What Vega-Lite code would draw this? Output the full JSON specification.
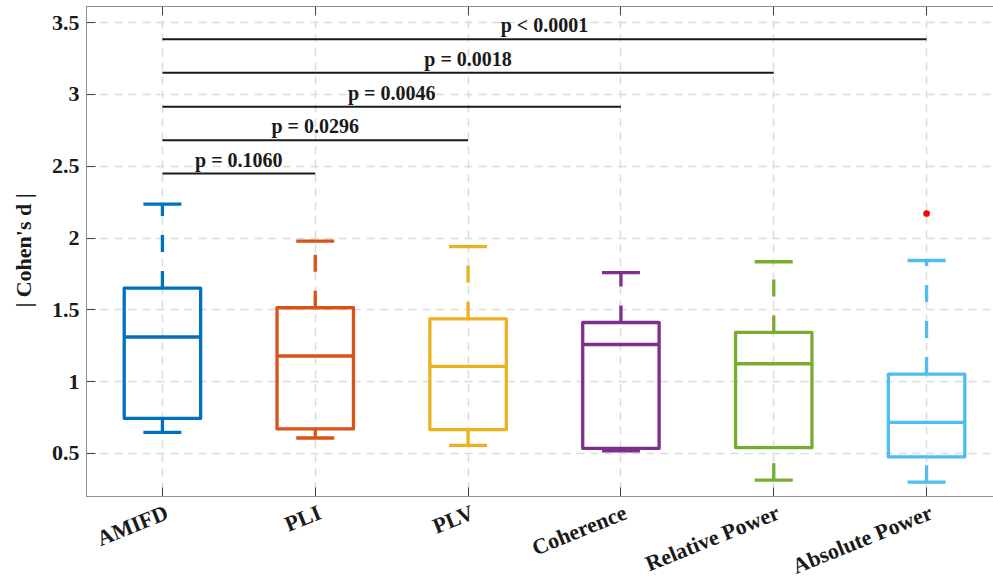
{
  "$schema": "https://vega.github.io/schema/vega-lite/v6.json",
  "width": 917,
  "height": 490,
  "autosize": {"type": "none"},
  "padding": {"left": 86, "top": 6, "right": -10, "bottom": 84},
  "background": "white",
  "config": {"view": {"stroke": "#8c8c8c", "strokeWidth": 1}, "font": "Liberation Serif"},
  "datasets": {
    "boxes": [
      {"method": "AMIFD", "lower": 0.643, "q1": 0.741, "median": 1.307, "q3": 1.648, "upper": 2.232},
      {"method": "PLI", "lower": 0.604, "q1": 0.667, "median": 1.175, "q3": 1.511, "upper": 1.975},
      {"method": "PLV", "lower": 0.553, "q1": 0.662, "median": 1.102, "q3": 1.434, "upper": 1.937},
      {"method": "Coherence", "lower": 0.514, "q1": 0.532, "median": 1.255, "q3": 1.408, "upper": 1.756},
      {"method": "Relative Power", "lower": 0.31, "q1": 0.537, "median": 1.121, "q3": 1.339, "upper": 1.831},
      {"method": "Absolute Power", "lower": 0.296, "q1": 0.472, "median": 0.713, "q3": 1.049, "upper": 1.84}
    ],
    "outliers": [{"method": "Absolute Power", "value": 2.167}],
    "sig": [
      {"from": "AMIFD", "to": "PLI", "h": 2.445, "label": "p = 0.1060"},
      {"from": "AMIFD", "to": "PLV", "h": 2.677, "label": "p = 0.0296"},
      {"from": "AMIFD", "to": "Coherence", "h": 2.911, "label": "p = 0.0046"},
      {"from": "AMIFD", "to": "Relative Power", "h": 3.147, "label": "p = 0.0018"},
      {"from": "AMIFD", "to": "Absolute Power", "h": 3.38, "label": "p < 0.0001"}
    ]
  },
  "resolve": {"axis": {"x": "independent"}, "scale": {"xOffset": "independent"}},
  "layer": [
    {
      "data": {"name": "boxes"},
      "mark": {"type": "rule", "strokeWidth": 3.3, "strokeDash": [17, 19], "strokeCap": "butt"},
      "encoding": {
        "x": {
          "field": "method", "type": "nominal",
          "scale": {"type": "band", "domain": ["AMIFD", "PLI", "PLV", "Coherence", "Relative Power", "Absolute Power"], "paddingInner": 0, "paddingOuter": 0},
          "axis": {
            "orient": "bottom", "title": null, "grid": true, "gridColor": "#dcdcdc", "gridDash": [8, 6], "gridWidth": 1.5,
            "domainColor": "#8c8c8c", "domainWidth": 1, "ticks": true, "tickColor": "#444444", "tickSize": -9, "tickWidth": 1,
            "labelAngle": -22, "labelAlign": "right", "labelBaseline": "top", "labelFont": "Liberation Serif", "labelFontWeight": "bold",
            "labelFontSize": 22, "labelColor": "#1a1a1a", "labelPadding": 15, "labelOffset": 1
          }
        },
        "y": {
          "field": "lower", "type": "quantitative",
          "scale": {"domain": [0.2, 3.612], "nice": false, "zero": false},
          "axis": {
            "orient": "left", "title": "| Cohen's d |", "values": [0.5, 1, 1.5, 2, 2.5, 3, 3.5], "format": "~g",
            "grid": true, "gridColor": "#dcdcdc", "gridDash": [8, 6], "gridWidth": 1.5,
            "domainColor": "#8c8c8c", "domainWidth": 1, "tickColor": "#444444", "tickSize": -9, "tickWidth": 1,
            "labelFont": "Liberation Serif", "labelFontWeight": "bold", "labelFontSize": 22, "labelColor": "#1a1a1a", "labelPadding": 16,
            "titleFont": "Liberation Serif", "titleFontWeight": "bold", "titleFontSize": 22, "titleColor": "#1a1a1a",
            "titleX": -63, "titleY": 244, "titleAngle": 270, "titleAlign": "center", "titleBaseline": "middle"
          }
        },
        "y2": {"field": "q1"},
        "color": {"field": "method", "type": "nominal", "scale": {"domain": ["AMIFD", "PLI", "PLV", "Coherence", "Relative Power", "Absolute Power"], "range": ["#0072BD", "#D95319", "#EDB120", "#7E2F8E", "#77AC30", "#4DBEEE"]}, "legend": null}
      }
    },
    {
      "data": {"name": "boxes"},
      "mark": {"type": "rule", "strokeWidth": 3.3, "strokeDash": [17, 19], "strokeCap": "butt"},
      "encoding": {
        "x": {"field": "method", "type": "nominal", "axis": null},
        "y": {"field": "q3", "type": "quantitative"},
        "y2": {"field": "upper"},
        "color": {"field": "method", "type": "nominal", "legend": null}
      }
    },
    {
      "data": {"name": "boxes"},
      "mark": {"type": "bar", "filled": false, "strokeWidth": 3.3, "width": {"band": 0.5}, "strokeJoin": "round"},
      "encoding": {
        "x": {"field": "method", "type": "nominal", "axis": null},
        "y": {"field": "q1", "type": "quantitative"},
        "y2": {"field": "q3"},
        "color": {"field": "method", "type": "nominal", "legend": null}
      }
    },
    {
      "data": {"name": "boxes"},
      "mark": {"type": "tick", "orient": "horizontal", "size": 76, "thickness": 3.3, "opacity": 1},
      "encoding": {
        "x": {"field": "method", "type": "nominal", "axis": null},
        "y": {"field": "median", "type": "quantitative"},
        "color": {"field": "method", "type": "nominal", "legend": null}
      }
    },
    {
      "data": {"name": "boxes"},
      "mark": {"type": "tick", "orient": "horizontal", "size": 38, "thickness": 3.3, "opacity": 1},
      "encoding": {
        "x": {
          "field": "method", "type": "nominal",
          "axis": {"orient": "top", "title": null, "labels": false, "grid": false, "domain": false, "ticks": true, "tickColor": "#444444", "tickSize": -9, "tickWidth": 1}
        },
        "y": {"field": "upper", "type": "quantitative"},
        "color": {"field": "method", "type": "nominal", "legend": null}
      }
    },
    {
      "data": {"name": "boxes"},
      "mark": {"type": "tick", "orient": "horizontal", "size": 38, "thickness": 3.3, "opacity": 1},
      "encoding": {
        "x": {"field": "method", "type": "nominal", "axis": null},
        "y": {"field": "lower", "type": "quantitative"},
        "color": {"field": "method", "type": "nominal", "legend": null}
      }
    },
    {
      "data": {"name": "outliers"},
      "mark": {"type": "point", "filled": true, "color": "#ff0000", "size": 45, "opacity": 1},
      "encoding": {
        "x": {"field": "method", "type": "nominal", "axis": null},
        "y": {"field": "value", "type": "quantitative"}
      }
    },
    {
      "data": {"name": "sig"},
      "mark": {"type": "rule", "color": "#1a1a1a", "strokeWidth": 2},
      "encoding": {
        "x": {"field": "from", "type": "nominal", "axis": null},
        "x2": {"field": "to"},
        "y": {"field": "h", "type": "quantitative"}
      }
    },
    {
      "data": {"name": "sig"},
      "mark": {"type": "text", "font": "Liberation Serif", "fontWeight": "bold", "fontSize": 20, "color": "#1a1a1a", "align": "center", "baseline": "alphabetic", "dy": -7},
      "encoding": {
        "x": {"field": "from", "type": "nominal", "axis": null},
        "xOffset": {
          "field": "to", "type": "nominal",
          "scale": {"type": "point", "domain": ["AMIFD", "PLI", "PLV", "Coherence", "Relative Power", "Absolute Power"], "padding": 0, "range": [{"expr": "width / 12"}, {"expr": "width / 2"}]}
        },
        "y": {"field": "h", "type": "quantitative"},
        "text": {"field": "label"}
      }
    }
  ]
}
